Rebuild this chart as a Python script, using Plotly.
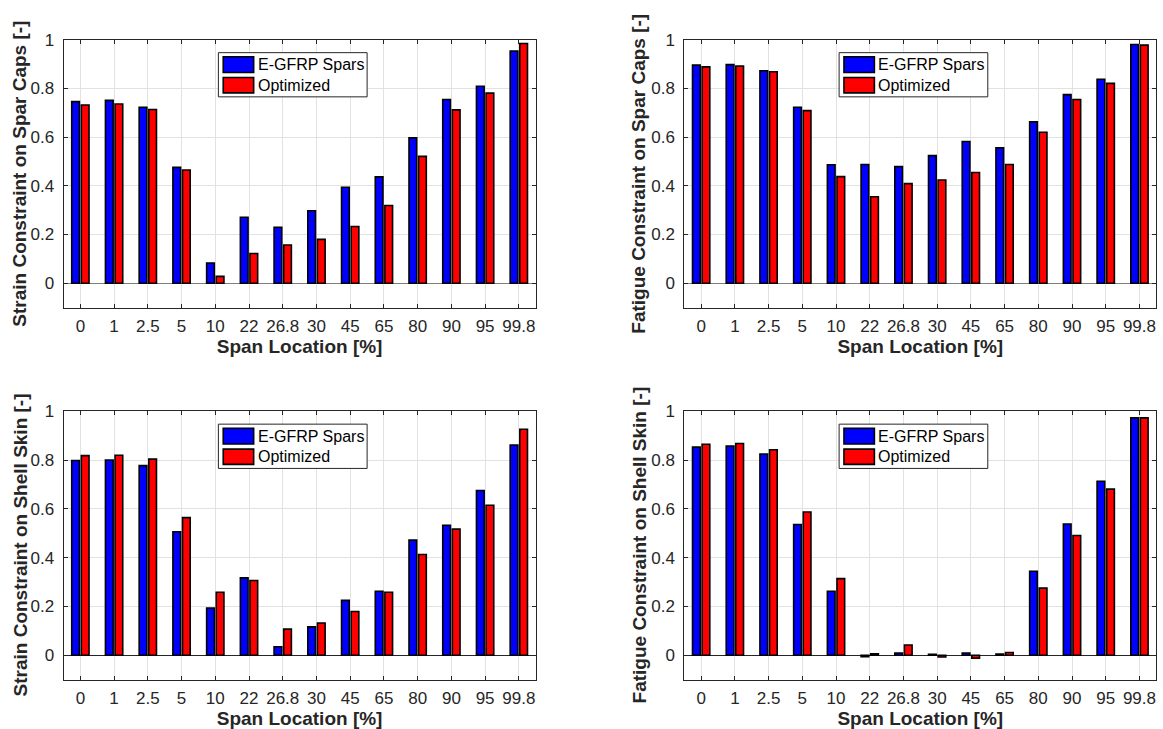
import plotly.graph_objects as go

# Span stations along the blade
span_labels = ["0", "1", "2.5", "5", "10", "22", "26.8", "30", "45", "65", "80", "90", "95", "99.8"]
positions = list(range(1, len(span_labels) + 1))

# Strain constraint on spar caps
strain_caps_egfrp = [0.746, 0.751, 0.723, 0.476, 0.083, 0.271, 0.230, 0.298, 0.394, 0.437, 0.597, 0.755, 0.809, 0.954]
strain_caps_opt = [0.732, 0.736, 0.714, 0.465, 0.028, 0.122, 0.157, 0.180, 0.233, 0.319, 0.521, 0.712, 0.781, 0.985]

# Fatigue constraint on spar caps
fatigue_caps_egfrp = [0.896, 0.898, 0.873, 0.723, 0.487, 0.488, 0.479, 0.524, 0.582, 0.556, 0.663, 0.775, 0.838, 0.981]
fatigue_caps_opt = [0.889, 0.892, 0.869, 0.709, 0.438, 0.355, 0.409, 0.424, 0.455, 0.488, 0.620, 0.755, 0.821, 0.978]

# Strain constraint on shell skin
strain_skin_egfrp = [0.798, 0.800, 0.777, 0.506, 0.193, 0.317, 0.035, 0.116, 0.225, 0.262, 0.472, 0.533, 0.675, 0.862]
strain_skin_opt = [0.818, 0.820, 0.804, 0.564, 0.258, 0.306, 0.107, 0.132, 0.179, 0.258, 0.413, 0.517, 0.615, 0.926]

# Fatigue constraint on shell skin
fatigue_skin_egfrp = [0.853, 0.857, 0.825, 0.536, 0.262, -0.006, 0.009, 0.004, 0.009, 0.005, 0.344, 0.538, 0.713, 0.973]
fatigue_skin_opt = [0.865, 0.868, 0.842, 0.587, 0.314, 0.006, 0.042, -0.007, -0.012, 0.011, 0.275, 0.491, 0.681, 0.973]

series_names = ["E-GFRP Spars", "Optimized"]
series_colors = ["#0000FF", "#FF0000"]

panels = [
    ("Strain Constraint on Spar Caps [-]", strain_caps_egfrp, strain_caps_opt, "#808080"),
    ("Fatigue Constraint on Spar Caps [-]", fatigue_caps_egfrp, fatigue_caps_opt, "#808080"),
    ("Strain Constraint on Shell Skin [-]", strain_skin_egfrp, strain_skin_opt, "#262626"),
    ("Fatigue Constraint on Shell Skin [-]", fatigue_skin_egfrp, fatigue_skin_opt, "#262626"),
]

W, H = 1163, 729
x_domains = [(63.5 / W, 535.7 / W), (684.3 / W, 1156.3 / W)]
y_domains = [(1 - 302.3 / H, 1 - 31.2 / H), (1 - 679.0 / H, 1 - 407.3 / H)]
# horizontal centre of the rotated y-axis titles, in pixels from the left
ytitle_x = [20.0, 639.0]

FONT = "Liberation Sans, Arial, sans-serif"
AXIS_COLOR = "#262626"
GRID_COLOR = "#e2e2e2"
TICK_SIZE = 17
TITLE_SIZE = 19

fig = go.Figure()
layout = dict(
    width=W, height=H,
    margin=dict(l=0, r=0, t=0, b=0),
    paper_bgcolor="white", plot_bgcolor="white",
    barmode="group", bargap=0.43, bargroupgap=0.2,
    showlegend=False,
    font=dict(family=FONT, size=TICK_SIZE, color=AXIS_COLOR),
)

shapes = []
annotations = []

for i, (ytitle, egfrp, opt, zero_color) in enumerate(panels):
    n = i + 1
    sfx = "" if n == 1 else str(n)
    xa, ya = "x" + sfx, "y" + sfx
    col, row = i % 2, i // 2

    for name, vals, color in zip(series_names, [egfrp, opt], series_colors):
        fig.add_trace(go.Bar(
            x=positions, y=vals, name=name,
            marker=dict(color=color, line=dict(color="#000000", width=1.6)),
            xaxis=xa, yaxis=ya,
        ))

    layout["xaxis" + sfx] = dict(
        domain=list(x_domains[col]), anchor=ya,
        range=[0.5, 14.5], tickmode="array", tickvals=positions, ticktext=span_labels,
        showgrid=True, gridcolor=GRID_COLOR, gridwidth=1,
        showline=True, linecolor=AXIS_COLOR, linewidth=1, mirror="ticks",
        ticks="inside", ticklen=4, tickcolor=AXIS_COLOR,
        tickfont=dict(family=FONT, size=TICK_SIZE, color=AXIS_COLOR),
        ticklabelstandoff=3,
        zeroline=False,
        title=dict(text="<b>Span Location [%]</b>", standoff=1,
                   font=dict(family=FONT, size=TITLE_SIZE, color=AXIS_COLOR)),
    )
    layout["yaxis" + sfx] = dict(
        domain=list(y_domains[row]), anchor=xa,
        range=[-0.1, 1], tickmode="array", tickvals=[0, 0.2, 0.4, 0.6, 0.8, 1],
        ticktext=["0", "0.2", "0.4", "0.6", "0.8", "1"],
        showgrid=True, gridcolor=GRID_COLOR, gridwidth=1,
        showline=True, linecolor=AXIS_COLOR, linewidth=1, mirror="ticks",
        ticks="inside", ticklen=4, tickcolor=AXIS_COLOR,
        tickfont=dict(family=FONT, size=TICK_SIZE, color=AXIS_COLOR),
        ticklabelstandoff=5,
        zeroline=True, zerolinecolor=zero_color, zerolinewidth=1.2,
    )

    # Rotated y-axis title
    y0, y1 = y_domains[row]
    annotations.append(dict(xref="paper", yref="paper", x=ytitle_x[col] / W, y=(y0 + y1) / 2,
                            xanchor="center", yanchor="middle", showarrow=False, textangle=-90,
                            text="<b>" + ytitle + "</b>",
                            font=dict(family=FONT, size=TITLE_SIZE, color=AXIS_COLOR)))

    # Legend box in the upper middle of each panel
    xr, yr = xa + " domain", ya + " domain"
    shapes.append(dict(type="rect", xref=xr, yref=yr, x0=0.328, x1=0.643, y0=0.787, y1=0.952,
                       fillcolor="white", line=dict(color=AXIS_COLOR, width=1), layer="above"))
    for k, (name, color) in enumerate(zip(series_names, series_colors)):
        top, bot = (0.937, 0.878) if k == 0 else (0.859, 0.802)
        shapes.append(dict(type="rect", xref=xr, yref=yr, x0=0.3383, x1=0.4027, y0=bot, y1=top,
                           fillcolor=color, line=dict(color="#000000", width=1.6), layer="above"))
        annotations.append(dict(xref=xr, yref=yr, x=0.407, y=(top + bot) / 2,
                                xanchor="left", yanchor="middle", showarrow=False,
                                text=name, font=dict(family=FONT, size=16, color="#000000")))

layout["shapes"] = shapes
layout["annotations"] = annotations
fig.update_layout(**layout)

fig.write_html("out.html")
